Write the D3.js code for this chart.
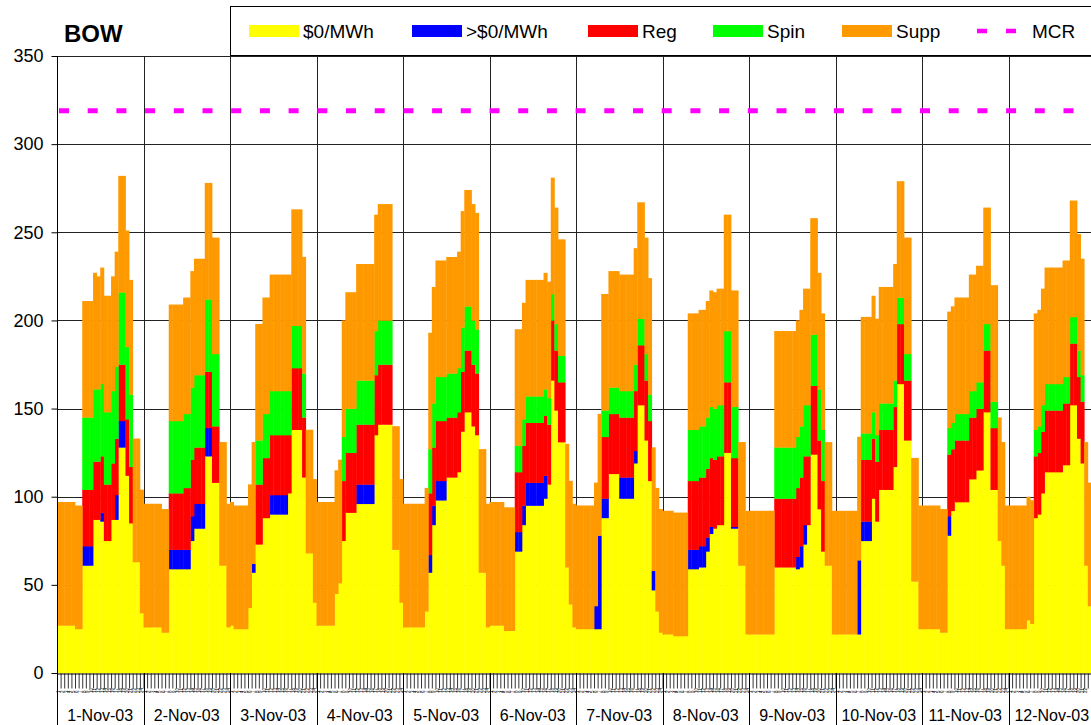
<!DOCTYPE html>
<html>
<head>
<meta charset="utf-8">
<script src="https://cdn.jsdelivr.net/npm/d3@7"></script>
<style>
  html, body { margin: 0; padding: 0; background: #fff; overflow: hidden; }
  svg { display: block; font-family: "Liberation Sans", Arial, sans-serif; }
</style>
</head>
<body>
<div id="chart"></div>
<script>
// day categories (second level of the x axis)
const dayLabels = ["1-Nov-03", "2-Nov-03", "3-Nov-03", "4-Nov-03", "5-Nov-03", "6-Nov-03",
  "7-Nov-03", "8-Nov-03", "9-Nov-03", "10-Nov-03", "11-Nov-03", "12-Nov-03"];
// hour categories (first level, tiny labels)
const hourLabels = ["1", "2", "3", "4", "5", "6", "7", "8", "9", "10", "11", "12",
  "13", "14", "15", "16", "17", "18", "19", "20", "21", "22", "23", "24"];
const yTicks = [0, 50, 100, 150, 200, 250, 300, 350];
const mcr = 319; // MW

// $0/MWh (one row per day, 24 hours)
const zeroPrice = [
  27,27,27,27,27,25,25,61,61,61,87,87,86,75,75,87,87,128,128,112,85,63,63,34,
  26,26,26,26,26,23,23,59,59,59,59,59,59,75,82,82,82,123,123,108,108,61,61,26,
  27,25,25,25,25,37,57,73,73,88,88,90,90,90,90,90,102,138,138,138,111,68,68,40,
  27,27,27,27,27,45,51,75,91,91,91,96,96,96,96,96,135,141,141,141,141,70,70,40,
  26,26,26,26,26,26,35,57,84,98,98,98,111,111,111,114,137,148,148,140,135,57,57,26,
  27,27,27,27,24,24,24,69,69,84,95,95,95,95,95,99,107,166,149,131,131,60,39,26,
  25,25,25,25,25,25,25,88,88,113,113,113,99,99,99,99,119,152,152,132,109,47,35,23,
  22,22,22,21,21,21,21,59,59,59,60,60,69,79,82,84,84,125,125,82,82,61,61,22,
  22,22,22,22,22,22,22,60,60,60,60,60,60,59,60,73,84,124,124,93,69,61,61,22,
  22,22,22,22,22,22,22,75,75,75,99,86,104,104,104,104,117,164,164,132,132,52,52,25,
  25,25,25,25,25,23,23,78,92,97,97,97,97,110,110,115,115,148,148,104,104,75,61,25,
  25,25,25,25,25,30,28,88,90,102,114,114,114,114,114,118,118,152,152,133,119,61,38,25
];

// >$0/MWh
const posPrice = [
  0,0,0,0,0,0,0,11,11,11,0,0,5,0,0,0,14,15,15,0,0,0,0,0,
  0,0,0,0,0,0,0,11,11,11,11,11,11,14,14,14,14,16,16,0,0,0,0,0,
  0,0,0,0,0,0,5,0,0,0,0,11,11,11,11,11,0,0,0,0,0,0,0,0,
  0,0,0,0,0,0,0,0,0,0,0,11,11,11,11,11,0,0,0,0,0,0,0,0,
  0,0,0,0,0,0,0,10,11,11,11,11,0,0,0,0,0,0,0,0,0,0,0,0,
  0,0,0,0,0,0,0,11,11,11,13,13,13,13,13,13,0,0,0,0,0,0,0,0,
  0,0,0,0,0,13,53,11,11,0,0,0,12,12,12,12,7,0,0,0,0,11,0,0,
  0,0,0,0,0,0,0,11,11,11,12,12,8,4,0,0,0,0,0,1,1,0,0,0,
  0,0,0,0,0,0,0,0,0,0,0,0,0,7,12,11,0,0,0,0,0,0,0,0,
  0,0,0,0,0,0,42,11,11,11,0,0,0,0,0,0,0,0,0,0,0,0,0,0,
  0,0,0,0,0,0,0,11,0,0,0,0,0,0,0,0,0,0,0,0,0,0,0,0,
  0,0,0,0,0,0,0,0,0,0,0,0,0,0,0,0,0,0,0,0,0,0,0,0
];

// Reg
const reg = [
  0,0,0,0,0,0,0,32,32,32,33,33,32,32,32,32,32,32,32,32,32,0,0,0,
  0,0,0,0,0,0,0,32,32,32,32,35,35,32,32,32,32,32,32,32,32,0,0,0,
  0,0,0,0,0,0,0,34,34,34,34,34,34,34,34,34,33,35,35,35,34,0,0,0,
  0,0,0,0,0,0,0,34,34,34,34,34,34,34,34,34,34,34,34,34,34,0,0,0,
  0,0,0,0,0,0,0,35,33,34,34,34,34,34,34,34,34,35,35,35,35,0,0,0,
  0,0,0,0,0,0,0,34,34,34,34,34,34,34,34,34,34,34,34,34,34,0,0,0,
  0,0,0,0,0,0,0,35,35,34,34,34,34,34,34,34,34,34,34,34,34,0,0,0,
  0,0,0,0,0,0,0,39,39,39,39,39,39,39,39,39,39,40,40,39,39,0,0,0,
  0,0,0,0,0,0,0,39,39,39,39,39,39,39,39,39,39,39,39,39,40,0,0,0,
  0,0,0,0,0,0,0,35,35,35,34,34,34,34,34,34,34,34,34,34,34,0,0,0,
  0,0,0,0,0,0,0,35,35,35,35,35,35,35,35,35,35,35,35,35,35,0,0,0,
  0,0,0,0,0,0,0,35,35,35,35,35,35,35,35,35,35,35,35,35,35,0,0,0
];

// Spin
const spin = [
  0,0,0,0,0,0,0,41,41,41,41,41,41,41,41,41,41,41,41,41,41,0,0,0,
  0,0,0,0,0,0,0,41,41,41,41,42,42,41,41,41,41,41,41,41,41,0,0,0,
  0,0,0,0,0,0,0,25,25,25,25,25,25,25,25,25,25,24,24,24,25,0,0,0,
  0,0,0,0,0,0,0,25,25,25,25,25,25,25,25,25,25,25,25,25,25,0,0,0,
  0,0,0,0,0,0,0,25,25,25,25,25,25,25,25,25,25,25,25,25,25,0,0,0,
  0,0,0,0,0,0,0,15,15,15,15,15,15,15,15,15,15,15,15,15,15,0,0,0,
  0,0,0,0,0,0,0,15,15,15,15,15,15,15,15,15,15,15,15,15,15,0,0,0,
  0,0,0,0,0,0,0,29,29,29,29,29,29,29,29,29,29,29,29,29,29,0,0,0,
  0,0,0,0,0,0,0,29,29,29,29,29,29,29,29,29,29,29,29,29,29,0,0,0,
  0,0,0,0,0,0,0,15,15,15,15,15,15,15,15,15,15,15,15,15,15,0,0,0,
  0,0,0,0,0,0,0,15,15,15,15,15,15,15,15,15,15,15,15,15,15,0,0,0,
  0,0,0,0,0,0,0,15,15,15,15,15,15,15,15,15,15,15,15,15,15,0,0,0
];

// Supp
const supp = [
  70,70,70,70,70,70,70,66,66,66,66,64,66,66,66,65,65,66,66,66,65,70,70,70,
  70,70,70,70,70,70,70,66,66,66,66,66,66,66,66,66,66,66,66,66,66,70,70,70,
  70,70,70,70,70,70,69,66,66,66,66,66,66,66,66,66,66,66,66,66,66,70,70,70,
  70,70,70,70,70,70,70,66,66,66,66,66,66,66,66,66,66,66,66,66,66,70,70,70,
  70,70,70,70,70,70,70,66,66,66,66,66,66,66,66,66,66,66,66,66,66,70,70,70,
  70,70,70,70,70,70,70,66,66,66,66,66,66,66,66,66,66,66,66,66,66,70,70,70,
  70,70,70,70,70,70,69,66,66,66,66,66,66,66,66,66,66,66,66,66,66,70,70,70,
  70,70,70,70,70,70,70,66,66,66,66,66,66,66,66,66,66,66,66,66,66,70,70,70,
  70,70,70,70,70,70,70,66,66,66,66,66,66,66,66,66,66,66,66,66,66,70,70,70,
  70,70,70,70,70,70,70,66,66,66,66,66,66,66,66,66,66,66,66,66,66,70,70,70,
  70,70,70,70,70,70,70,66,66,66,66,66,66,66,66,66,66,66,66,66,66,70,70,70,
  70,70,70,70,70,70,70,66,66,66,66,66,66,66,66,66,66,66,66,66,66,70,70,70
];

const series = [
  { key: "zero", label: "$0/MWh", color: "#FFFF00", values: zeroPrice },
  { key: "pos", label: ">$0/MWh", color: "#0000FF", values: posPrice },
  { key: "reg", label: "Reg", color: "#FF0000", values: reg },
  { key: "spin", label: "Spin", color: "#00FF00", values: spin },
  { key: "supp", label: "Supp", color: "#FF9900", values: supp }
];

// layout
const W = 1091, H = 725;
const plotLeft = 57, plotTop = 56, plotBottom = 673;
const dayW = 86.5;
const nHours = zeroPrice.length;
const hoursPerDay = hourLabels.length;

const svg = d3.select("#chart").append("svg")
  .attr("width", W)
  .attr("height", H);

const x = d3.scaleLinear().domain([0, nHours]).range([plotLeft, plotLeft + dayLabels.length * dayW]);
const y = d3.scaleLinear().domain([0, 350]).range([plotBottom, plotTop]);
const px = v => Math.round(v) + 0.5;

// gridlines (behind the bars)
svg.append("g").selectAll("line")
  .data(yTicks.filter(d => d > 0))
  .join("line")
  .attr("x1", plotLeft).attr("x2", W)
  .attr("y1", d => px(y(d))).attr("y2", d => px(y(d)))
  .attr("stroke", "#222").attr("stroke-width", 1);

svg.append("g").selectAll("line")
  .data(d3.range(1, dayLabels.length + 1))
  .join("line")
  .attr("x1", d => px(x(d * hoursPerDay))).attr("x2", d => px(x(d * hoursPerDay)))
  .attr("y1", plotTop).attr("y2", plotBottom)
  .attr("stroke", "#222").attr("stroke-width", 1);

// stacked hourly bars
const table = zeroPrice.map((d, i) => {
  const row = { hour: i };
  series.forEach(s => { row[s.key] = s.values[i]; });
  return row;
});
const stacked = d3.stack().keys(series.map(s => s.key))(table);

svg.append("g").selectAll("g")
  .data(stacked)
  .join("g")
  .attr("fill", (d, i) => series[i].color)
  .selectAll("rect")
  .data(d => d.filter(p => p[1] > p[0]))
  .join("rect")
  .attr("x", d => x(d.data.hour))
  .attr("width", d => x(d.data.hour + 1) - x(d.data.hour) + 0.4)
  .attr("y", d => y(d[1]))
  .attr("height", d => y(d[0]) - y(d[1]) + 0.3);

// MCR dashed line
svg.append("line")
  .attr("x1", plotLeft + 2).attr("x2", x(nHours))
  .attr("y1", y(mcr)).attr("y2", y(mcr))
  .attr("stroke", "#FF00FF")
  .attr("stroke-width", 5)
  .attr("stroke-dasharray", "10,18.7");

// y axis
const yAxis = svg.append("g")
  .attr("transform", `translate(${px(plotLeft)},0)`)
  .call(d3.axisLeft(y).tickValues(yTicks).tickSize(6).tickPadding(8).tickSizeOuter(0));
yAxis.select(".domain").remove();
yAxis.selectAll(".tick line").attr("stroke", "#000");
yAxis.selectAll(".tick text")
  .attr("font-size", 18)
  .attr("font-family", "Liberation Sans, Arial, sans-serif")
  .attr("fill", "#000");

// left axis line runs down through the category area
svg.append("line")
  .attr("x1", px(plotLeft)).attr("x2", px(plotLeft))
  .attr("y1", plotTop).attr("y2", H)
  .attr("stroke", "#000");

// x axis: hour ticks
const xAxis = svg.append("g")
  .attr("transform", `translate(0,${px(plotBottom)})`)
  .call(d3.axisBottom(x).tickValues(d3.range(0, nHours + 1)).tickSize(15).tickFormat("").tickSizeOuter(0));
xAxis.select(".domain").attr("stroke", "#000");
xAxis.selectAll(".tick line").attr("stroke", "#000").attr("stroke-width", 0.8);

// tiny hour labels (only those that fit inside the picture)
svg.append("g").selectAll("text")
  .data(d3.range(nHours).filter(d => x(d + 0.5) + 3 < W))
  .join("text")
  .attr("transform", d => `translate(${x(d + 0.5) + 1.5},693) rotate(-90)`)
  .attr("text-anchor", "start")
  .attr("font-size", 4.5)
  .attr("fill", "#000")
  .text(d => hourLabels[d % hoursPerDay]);

// day separators and labels
svg.append("g").selectAll("line")
  .data(d3.range(1, dayLabels.length + 1))
  .join("line")
  .attr("x1", d => px(x(d * hoursPerDay))).attr("x2", d => px(x(d * hoursPerDay)))
  .attr("y1", plotBottom).attr("y2", H)
  .attr("stroke", "#000");

svg.append("g").selectAll("text")
  .data(dayLabels)
  .join("text")
  .attr("x", (d, i) => x((i + 0.5) * hoursPerDay))
  .attr("y", 721)
  .attr("text-anchor", "middle")
  .attr("font-size", 16)
  .attr("fill", "#000")
  .text(d => d);

// title
svg.append("text")
  .attr("x", 64).attr("y", 42)
  .attr("font-size", 24)
  .attr("font-weight", "bold")
  .attr("fill", "#000")
  .text("BOW");

// legend
svg.append("rect")
  .attr("x", 230.5).attr("y", 6.5)
  .attr("width", W).attr("height", 49)
  .attr("fill", "#fff")
  .attr("stroke", "#000");

const legendX = [249, 412, 588, 713, 842];
const legend = svg.append("g").selectAll("g")
  .data(series)
  .join("g")
  .attr("transform", (d, i) => `translate(${legendX[i]},25)`);
legend.append("rect")
  .attr("width", 50).attr("height", 12)
  .attr("fill", d => d.color);
legend.append("text")
  .attr("x", 54).attr("y", 13)
  .attr("font-size", 19)
  .attr("fill", "#000")
  .text(d => d.label);

const mcrLegend = svg.append("g").attr("transform", "translate(977,31)");
mcrLegend.append("line")
  .attr("x1", 0).attr("x2", 40)
  .attr("stroke", "#FF00FF")
  .attr("stroke-width", 4.5)
  .attr("stroke-dasharray", "10,19");
mcrLegend.append("text")
  .attr("x", 55).attr("y", 7)
  .attr("font-size", 19)
  .attr("fill", "#000")
  .text("MCR");
</script>
</body>
</html>
